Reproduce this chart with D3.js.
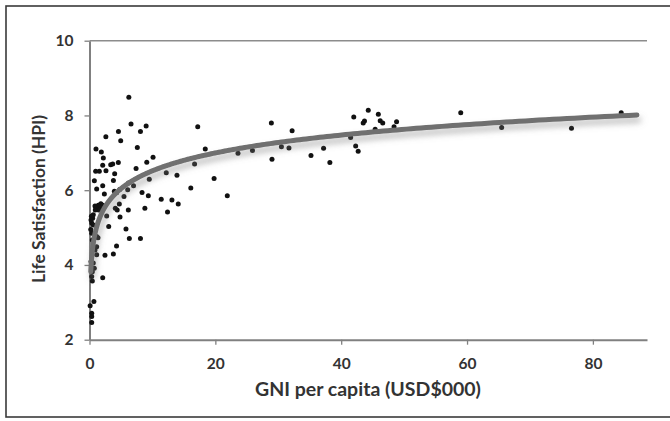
<!DOCTYPE html>
<html>
<head>
<meta charset="utf-8">
<script src="https://cdn.jsdelivr.net/npm/d3@7"></script>
<style>
  html, body { margin: 0; padding: 0; background: #fff; }
  svg { display: block; }
</style>
</head>
<body>
<svg id="chart" width="670" height="421"></svg>
<script>
// ---- data ----
const gniX = [
  6.25, 6.6, 4.6, 8.1, 9.0, 17.2, 2.6, 4.96, 1.03, 1.88, 7.6, 18.4, 2.2, 10.1, 4.58, 3.37, 3.69, 2.1, 9.1,
  0.98, 1.56, 2.62, 4.0, 7.4, 0.77, 2.1, 3.8, 1.14, 3.95, 9.5, 6.07, 7.0, 12.2, 13.9, 16.1, 16.7, 19.8, 21.9,
  2.36, 8.35, 9.35, 11.4, 13.1, 14.1, 5.48, 4.74, 4.1, 6.17, 8.8, 12.4, 4.85,
  1.4, 1.8, 2.1, 1.6, 2.0, 0.87, 1.03, 0.6, 0.5, 2.73, 3.05, 5.8, 6.33, 8.1, 2.46, 3.79, 4.3, 2.1,
  0.35, 1.14, 1.14, 1.14, 0.76, 0.35, 0.45, 0.7, 0.1, 0.35, 0.35, 0.35, 0.35, 0.45, 0.87, 0.24, 0.6, 0.45,
  4.4, 4.3, 0.3, 0.2, 1.35,
  4.8, 6.2, 1.46, 0.92, 0.24, 0.6,
  59.0, 84.5, 65.5, 76.6, 44.3, 45.9, 42.0, 43.7, 43.5, 45.4, 46.2, 46.6, 48.4, 48.8, 41.5, 42.3, 42.7,
  28.9, 32.2, 30.5, 31.7, 29.0, 25.9, 23.6, 35.2, 37.2, 38.2
];
const lifeY = [
  8.49, 7.77, 7.57, 7.57, 7.72, 7.70, 7.43, 7.32, 7.10, 7.02, 7.14, 7.10, 6.86, 6.88, 6.74, 6.68, 6.70, 6.67, 6.75,
  6.51, 6.51, 6.52, 6.44, 6.58, 6.25, 6.12, 6.26, 6.03, 5.97, 6.29, 6.01, 6.12, 6.47, 6.40, 6.06, 6.70, 6.31, 5.85,
  5.90, 5.94, 5.85, 5.76, 5.74, 5.63, 5.83, 5.63, 5.52, 5.47, 5.52, 5.42, 5.28,
  5.60, 5.64, 5.60, 5.55, 5.54, 5.58, 5.52, 5.34, 5.25, 5.31, 5.03, 4.96, 4.71, 4.71, 4.26, 4.29, 4.51, 3.66,
  5.12, 4.76, 4.49, 4.27, 3.91, 3.69, 3.57, 3.02, 2.91, 2.71, 2.62, 2.46, 4.85, 4.67, 4.40, 4.09, 4.05, 3.82,
  5.47, 5.93, 5.30, 4.95, 4.73,
  6.02, 6.19, 5.47, 5.47, 5.20, 5.07,
  8.07, 8.07, 7.68, 7.66, 8.14, 8.03, 7.96, 7.85, 7.80, 7.63, 7.86, 7.80, 7.70, 7.83, 7.41, 7.18, 7.04,
  7.80, 7.59, 7.16, 7.13, 6.83, 7.06, 6.99, 6.93, 7.12, 6.74
];
const xTicks = [0, 20, 40, 60, 80];
const yTicks = [2, 4, 6, 8, 10];
// logarithmic trendline y = a*ln(x) + b, coefficients
const trendA = 0.69;
const trendB = 4.93;
const trendRange = [0.2, 87];

const xTitle = "GNI per capita (USD$000)";
const yTitle = "Life Satisfaction (HPI)";

// ---- drawing ----
const svg = d3.select("#chart");
const mLeft = 89.5, mRight = 647, mTop = 40.7, mBottom = 339.7;
const x = d3.scaleLinear().domain([0, 88.6]).range([mLeft, mRight]);
const y = d3.scaleLinear().domain([2, 10]).range([mBottom, mTop]);

const defs = svg.append("defs");
const f = defs.append("filter").attr("id", "shadow")
  .attr("x", "-10%").attr("y", "-20%").attr("width", "130%").attr("height", "160%");
f.append("feDropShadow").attr("dx", 2).attr("dy", 5).attr("stdDeviation", 3)
  .attr("flood-color", "#808080").attr("flood-opacity", 0.55);

// outer frame
svg.append("rect").attr("x", 6).attr("y", 6).attr("width", 700).attr("height", 411)
  .attr("fill", "none").attr("stroke", "#3a3a3a").attr("stroke-width", 1.6);

// top gridline (10)
svg.append("line").attr("x1", mLeft).attr("x2", mRight).attr("y1", y(10)).attr("y2", y(10))
  .attr("stroke", "#8c8c8c").attr("stroke-width", 1.6);

// axes
const fontFam = "Lato, 'Open Sans', sans-serif";
const xAxis = d3.axisBottom(x).tickValues(xTicks).tickSize(5).tickSizeOuter(0).tickPadding(13);
const gx = svg.append("g").attr("transform", `translate(0,${mBottom})`).call(xAxis);
const yAxis = d3.axisLeft(y).tickValues(yTicks).tickSize(5).tickSizeOuter(0).tickPadding(11);
const gy = svg.append("g").attr("transform", `translate(${mLeft},0)`).call(yAxis);
[gx, gy].forEach(g => {
  g.select(".domain").attr("stroke", "#808080").attr("stroke-width", 2);
  g.selectAll(".tick line").attr("stroke", "#808080").attr("stroke-width", 1.3);
  g.selectAll(".tick text").attr("fill", "#333").attr("font-family", fontFam)
    .attr("font-weight", 700).attr("font-size", 15.5);
});

// points
svg.append("g").selectAll("circle").data(gniX.map((v, i) => [v, lifeY[i]]))
  .join("circle")
  .attr("cx", d => x(d[0])).attr("cy", d => y(d[1])).attr("r", 2.5)
  .attr("fill", "#111");

// trendline
const trendXs = d3.range(0, 401).map(i => trendRange[0] * Math.pow(trendRange[1] / trendRange[0], i / 400));
const line = d3.line().x(d => x(d)).y(d => y(trendA * Math.log(d) + trendB)).curve(d3.curveLinear);
svg.append("path").datum(trendXs).attr("d", line)
  .attr("fill", "none").attr("stroke", "#6f6f6f").attr("stroke-width", 5)
  .attr("stroke-linecap", "round").attr("filter", "url(#shadow)");

// titles (font size fitted to the width the title takes in the reference)
function fitText(sel, targetLen, base) {
  sel.attr("font-size", base);
  const len = sel.node().getComputedTextLength();
  if (len > 0) sel.attr("font-size", base * targetLen / len);
}
const xt = svg.append("text").attr("x", 368).attr("y", 395.5).attr("text-anchor", "middle")
  .attr("font-family", fontFam).attr("font-weight", 700)
  .attr("fill", "#333").text(xTitle);
fitText(xt, 226, 17);
const yt = svg.append("text").attr("transform", "translate(45,199) rotate(-90)").attr("text-anchor", "middle")
  .attr("font-family", fontFam).attr("font-weight", 700)
  .attr("fill", "#333").text(yTitle);
fitText(yt, 168, 17);
</script>
</body>
</html>
